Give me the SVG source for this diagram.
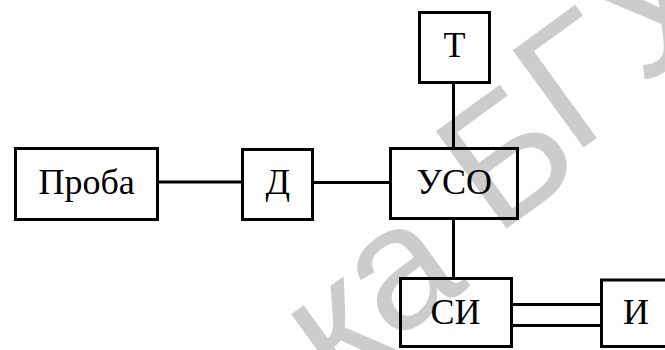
<svg xmlns="http://www.w3.org/2000/svg" width="665" height="350" viewBox="0 0 665 350" xml:lang="ru" lang="ru">
<rect width="665" height="350" fill="#fff"/>
<g id="connectors" stroke="#000" stroke-width="3">
<line x1="159" y1="182" x2="241" y2="182"/>
<line x1="314" y1="182.5" x2="389" y2="182.5"/>
<line x1="453.5" y1="84" x2="453.5" y2="147"/>
<line x1="453.5" y1="220" x2="453.5" y2="277"/>
<line x1="513" y1="304.5" x2="600" y2="304.5"/>
<line x1="513" y1="325.5" x2="600" y2="325.5"/>
</g>
<g id="nodes" font-family="'Liberation Serif', 'Times New Roman', Tinos, 'DejaVu Serif', serif" font-size="36" fill="#000">
<g id="proba"><rect fill="none" stroke="#000" stroke-width="3" x="15.5" y="148.5" width="142" height="71"/><text x="38.5" y="193.5">Проба</text></g>
<g id="d"><rect fill="none" stroke="#000" stroke-width="3" x="242.5" y="149.5" width="70" height="70"/><text x="265.5" y="193.5">Д</text></g>
<g id="uso"><rect fill="none" stroke="#000" stroke-width="3" x="390.5" y="148.5" width="127" height="70"/><text x="416.5" y="193.5">УСО</text></g>
<g id="t"><rect fill="none" stroke="#000" stroke-width="3" x="419.5" y="12.5" width="70" height="70"/><text x="443.5" y="57">Т</text></g>
<g id="si"><rect fill="none" stroke="#000" stroke-width="3" x="400.5" y="278.5" width="111" height="68"/><text x="430.5" y="323.5">СИ</text></g>
<g id="i"><rect fill="none" stroke="#000" stroke-width="3" x="601.5" y="280" width="70" height="66.5"/><text x="623" y="323.5">И</text></g>
</g>
<g id="watermark" font-family="'Liberation Sans', sans-serif" font-size="175" fill="#cccccc" style="mix-blend-mode:multiply">
<text transform="translate(336,396) rotate(-36)">к</text>
<text transform="translate(392,343) rotate(-36)">а</text>
<text transform="translate(495,237) rotate(-36)">Б</text>
<text transform="translate(572,156) rotate(-36)">Г</text>
<text transform="translate(641,87) rotate(-36)">У</text>
</g>
</svg>
